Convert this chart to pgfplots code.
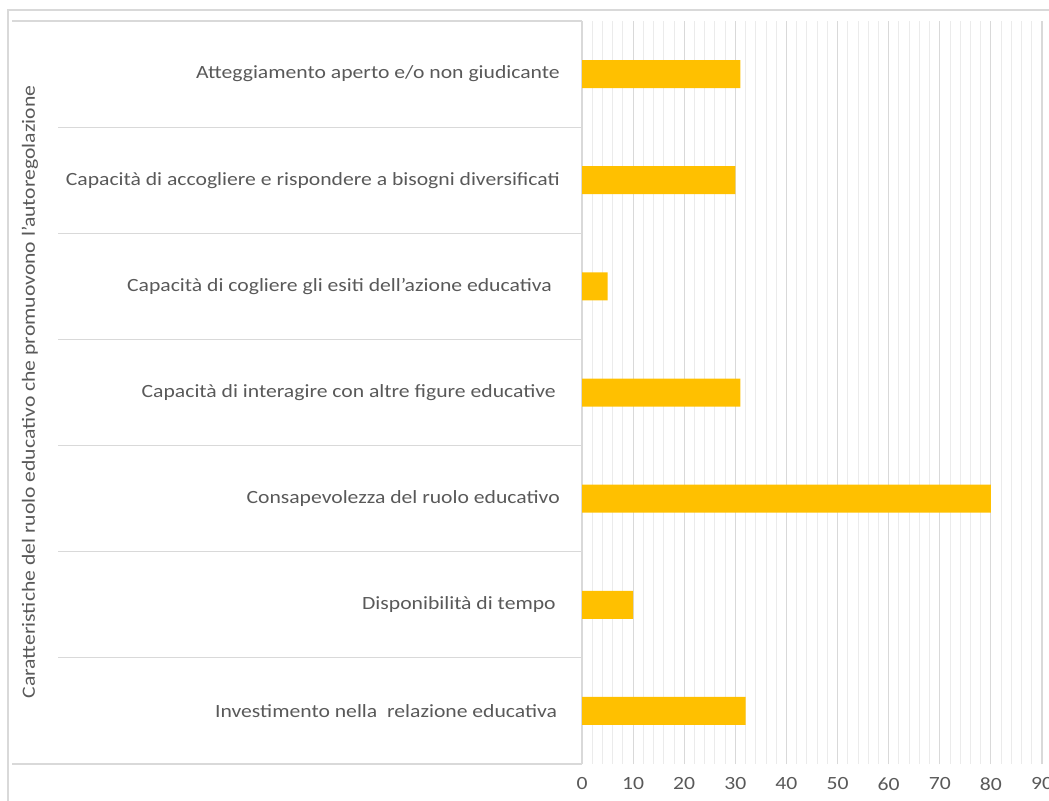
\documentclass[border=0pt]{standalone}
\usepackage{fontspec}
\setmainfont[FakeStretch=1.16]{Carlito}
\usepackage{pgfplots}
\pgfplotsset{compat=1.18}
\definecolor{barc}{HTML}{FFC000}
\definecolor{txt}{HTML}{595959}
\definecolor{gridc}{HTML}{D9D9D9}
\definecolor{mgridc}{HTML}{EBEBEB}
\begin{document}
\begin{tikzpicture}[x=0.75pt,y=0.75pt]
\useasboundingbox (0,0) rectangle (1049,800);
\draw[gridc, line width=0.9pt] (8,-5) -- (8,790) -- (1060,790);
\begin{axis}[
 at={(436.5pt,27pt)}, anchor=south west, scale only axis,
 width=345pt, height=557.25pt,
 xmin=0, xmax=90, ymin=-0.5, ymax=6.5,
 xtick={0,10,...,90}, minor x tick num=4,
 ytick={0,...,6},
 yticklabels={Investimento nella\ \ relazione educativa\hspace*{2pt}, Disponibilità di tempo\hspace*{3pt}, Consapevolezza del ruolo educativo, Capacità di interagire con altre figure educative\hspace*{3pt}, Capacità di cogliere gli esiti dell’azione educativa\hspace*{6pt}, Capacità di accogliere e rispondere a bisogni diversificati, Atteggiamento aperto e/o non giudicante},
 xmajorgrids, xminorgrids,
 major grid style={gridc, line width=0.8pt},
 minor grid style={mgridc, line width=0.6pt},
 axis line style={draw=none},
 tick style={draw=none},
 major tick length=0pt, minor tick length=0pt,
 font=\fontsize{14}{16}\selectfont,
 tick label style={text=txt},
 yticklabel style={inner sep=0pt, xshift=-16.5pt},
 xticklabel style={inner sep=0pt, yshift=-10pt},
 /pgf/number format/assume math mode=true,
 xbar, bar width=21pt,
]
\addplot[fill=barc, draw=none] coordinates {(32,0) (10,1) (80,2) (31,3) (5,4) (30,5) (31,6)};
\end{axis}
\foreach \k in {1,...,6} {
  \draw[gridc, line width=0.8pt] (58,{36+743/7*\k}) -- (582,{36+743/7*\k});
}
\draw[gridc, line width=0.8pt] (12,36) -- (582,36);
\draw[gridc, line width=0.8pt] (12,779) -- (582,779);
\node[rotate=90, text=txt, font=\fontsize{14}{16}\selectfont] at (30,408) {Caratteristiche del ruolo educativo che promuovono l’autoregolazione};
\end{tikzpicture}
\end{document}
